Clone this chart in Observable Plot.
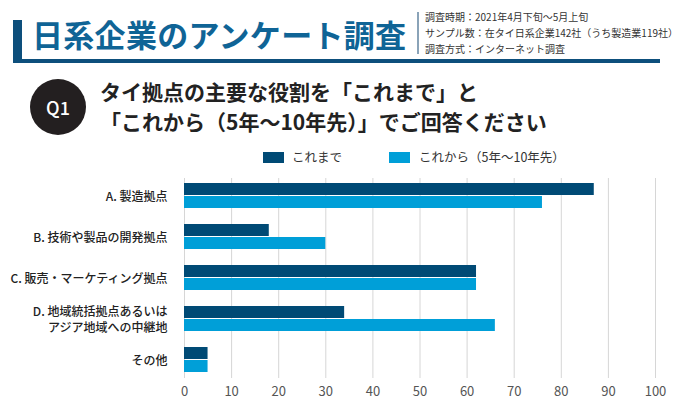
<!DOCTYPE html>
<html><head><meta charset="utf-8">
<script src="https://cdn.jsdelivr.net/npm/d3@7"></script>
<script src="https://cdn.jsdelivr.net/npm/@observablehq/plot@0.6"></script>
<style>
body{margin:0;background:#fff;font-family:"Noto Sans CJK JP","Noto Sans",sans-serif;}
#wrap{position:relative;width:680px;height:415px;overflow:hidden;background:#fff;}
.abs{position:absolute;white-space:nowrap;}
#bar{left:13px;top:20px;width:9px;height:43px;background:#0d4f7c;}
#hline{left:13px;top:59px;width:647px;height:4px;background:#0d4f7c;}
#title{left:32px;top:12px;font-size:31px;font-weight:700;color:#0f6496;line-height:44px;letter-spacing:0.3px;}
#sep{left:417px;top:12px;width:2px;height:42px;background:#8aa3b8;}
.meta{left:425px;font-size:10px;color:#333;line-height:12px;}
#circle{left:30px;top:79px;width:56px;height:56px;border-radius:50%;background:#231f20;color:#fff;font-size:18px;font-weight:500;text-align:center;line-height:56px;}
.q{left:100px;font-size:21px;font-weight:700;color:#222;line-height:26px;}
.lg{top:150px;font-size:12.5px;color:#333;line-height:14px;}
.sw{top:152px;width:21px;height:11px;}
#plot{position:absolute;left:0;top:170px;}
#plot svg text{font-family:"Noto Sans CJK JP","Noto Sans",sans-serif;}
</style></head>
<body><div id="wrap">
<div class="abs" id="bar"></div>
<div class="abs" id="hline"></div>
<div class="abs" id="title">日系企業のアンケート調査</div>
<div class="abs" id="sep"></div>
<div class="abs meta" style="top:11px">調査時期：2021年4月下旬～5月上旬</div>
<div class="abs meta" style="top:27px">サンプル数：在タイ日系企業142社（うち製造業119社）</div>
<div class="abs meta" style="top:43px">調査方式：インターネット調査</div>
<div class="abs" id="circle">Q1</div>
<div class="abs q" style="top:78px">タイ拠点の主要な役割を「これまで」と</div>
<div class="abs q" style="top:108px">「これから（5年～10年先）」でご回答ください</div>
<div class="abs sw" style="left:263px;background:#004a75"></div>
<div class="abs lg" style="left:292px" id="lg0"></div>
<div class="abs sw" style="left:389px;background:#009fd8"></div>
<div class="abs lg" style="left:419px" id="lg1"></div>
<div id="plot"></div>
</div>
<script>
const categories = ["A. 製造拠点", "B. 技術や製品の開発拠点", "C. 販売・マーケティング拠点", "D. 地域統括拠点あるいは\nアジア地域への中継地", "その他"];
const seriesNames = ["これまで", "これから（5年～10年先）"];
const pastValues = [87, 18, 62, 34, 5];
const futureValues = [76, 30, 62, 66, 5];
const xTicks = [0, 10, 20, 30, 40, 50, 60, 70, 80, 90, 100];
const colors = ["#004a75", "#009fd8"];

document.getElementById("lg0").textContent = seriesNames[0];
document.getElementById("lg1").textContent = seriesNames[1];

const past = categories.map((c, i) => ({category: c, value: pastValues[i]}));
const future = categories.map((c, i) => ({category: c, value: futureValues[i]}));

const chart = Plot.plot({
  width: 680,
  height: 245,
  marginTop: 8,
  marginBottom: 37,
  marginLeft: 184,
  marginRight: 25,
  x: {domain: [0, 100], label: null},
  y: {domain: categories, paddingInner: 0.38, paddingOuter: 0.1, label: null},
  marks: [
    Plot.gridX(xTicks, {stroke: "#d6d6d6", strokeOpacity: 1, strokeWidth: 1}),
    Plot.barX(past, {y: "category", x: "value", fill: colors[0], insetBottom: 13}),
    Plot.barX(future, {y: "category", x: "value", fill: colors[1], insetTop: 13}),
    Plot.axisX(xTicks, {tickSize: 0, tickPadding: 8, fontSize: 13, fill: "#555", anchor: "bottom", label: null}),
    Plot.axisY({tickSize: 0, tickPadding: 17, fontSize: 12, fill: "#222", fontWeight: 500, lineHeight: 1.3, label: null})
  ]
});
document.getElementById("plot").appendChild(chart);
</script>
</body></html>
